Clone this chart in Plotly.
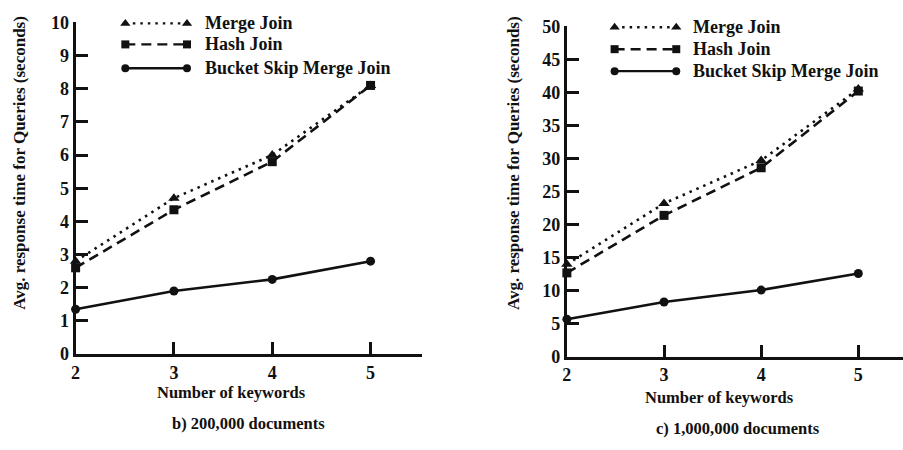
import plotly.graph_objects as go

# Number of keywords in the query
keywords = [2, 3, 4, 5]

# Average response time (seconds), 200,000 documents
merge_200k = [2.8, 4.7, 6.0, 8.1]
hash_200k = [2.6, 4.35, 5.8, 8.1]
bsmj_200k = [1.35, 1.9, 2.25, 2.8]

# Average response time (seconds), 1,000,000 documents
merge_1m = [14.0, 23.2, 29.7, 40.5]
hash_1m = [12.7, 21.4, 28.6, 40.2]
bsmj_1m = [5.7, 8.3, 10.1, 12.6]

series_names = ["Merge Join", "Hash Join", "Bucket Skip Merge Join"]
y_ticks_200k = list(range(0, 11))
y_ticks_1m = list(range(0, 51, 5))
captions = ["b) 200,000 documents", "c) 1,000,000 documents"]

FONT = "Liberation Serif"
BLACK = "#111111"
W, H = 903, 450

styles = [
    dict(dash="2.5px,5px", symbol="triangle-up", size=10),
    dict(dash="10px,6px", symbol="square", size=9),
    dict(dash="solid", symbol="circle", size=9),
]

fig = go.Figure()

panels = [
    dict(xa="x", ya="y", data=[merge_200k, hash_200k, bsmj_200k]),
    dict(xa="x2", ya="y2", data=[merge_1m, hash_1m, bsmj_1m]),
]

for p in panels:
    for vals, st, name in zip(p["data"], styles, series_names):
        fig.add_trace(go.Scatter(
            x=keywords, y=vals, name=name, mode="lines+markers",
            xaxis=p["xa"], yaxis=p["ya"], showlegend=False, cliponaxis=False,
            line=dict(color=BLACK, width=2.6, dash=st["dash"]),
            marker=dict(symbol=st["symbol"], size=st["size"], color=BLACK),
        ))

# Legend keys drawn on a full-page pixel-space axis: a line with a marker at each end
legend_rows = [
    dict(x0=121, x1=183, ys=[14, 36, 61], tx=199),
    dict(x0=613, x1=675, ys=[18, 41, 64], tx=690),
]
for row in legend_rows:
    for yk, st, name in zip(row["ys"], styles, series_names):
        fig.add_trace(go.Scatter(
            x=[row["x0"], row["x1"]], y=[yk, yk], mode="lines+markers",
            xaxis="x3", yaxis="y3", showlegend=False, hoverinfo="skip",
            line=dict(color=BLACK, width=2.4, dash=st["dash"]),
            marker=dict(symbol=st["symbol"], size=st["size"] - 1, color=BLACK),
        ))
        fig.add_annotation(
            x=row["tx"], y=yk, xref="x3", yref="y3", text=name, showarrow=False,
            xanchor="left", yanchor="middle",
            font=dict(family=FONT, size=18, color=BLACK, weight="bold"),
        )

axis_common = dict(
    showline=True, linecolor=BLACK, linewidth=3, showgrid=False, zeroline=False,
    ticks="inside", tickcolor=BLACK, tickwidth=2.5, ticklen=12,
    tickfont=dict(family=FONT, size=18, color=BLACK, weight="bold"),
)
# Short outer stubs so the tick marks cross the axis lines
stub_common = dict(
    showline=False, showgrid=False, zeroline=False, showticklabels=False,
    ticks="outside", tickcolor=BLACK, tickwidth=2.5, ticklen=4,
)

left_x = dict(domain=[71 / W, 419 / W], range=[2, 5.52], tickvals=keywords)
left_y = dict(domain=[1 - 360 / H, 1 - 13 / H], range=[0, 10], tickvals=y_ticks_200k)
right_x = dict(domain=[565 / W, 1.0], range=[2, 5.46], tickvals=keywords)
right_y = dict(domain=[1 - 363 / H, 1 - 17 / H], range=[0, 50], tickvals=y_ticks_1m)

fig.update_layout(
    width=W, height=H, margin=dict(l=0, r=0, t=0, b=0),
    paper_bgcolor="white", plot_bgcolor="rgba(0,0,0,0)",
    xaxis=dict(axis_common, **left_x, anchor="y"),
    yaxis=dict(axis_common, **left_y, anchor="x"),
    xaxis2=dict(axis_common, **right_x, anchor="y2"),
    yaxis2=dict(axis_common, **right_y, anchor="x2"),
    xaxis3=dict(domain=[0, 1], range=[0, W], visible=False, anchor="y3"),
    yaxis3=dict(domain=[0, 1], range=[H, 0], visible=False, anchor="x3"),
    xaxis4=dict(stub_common, range=left_x["range"], tickvals=[3, 4, 5],
                overlaying="x", anchor="y"),
    yaxis4=dict(stub_common, range=left_y["range"], tickvals=y_ticks_200k[1:],
                overlaying="y", anchor="x"),
    xaxis5=dict(stub_common, range=right_x["range"], tickvals=[3, 4, 5],
                overlaying="x2", anchor="y2"),
    yaxis5=dict(stub_common, range=right_y["range"], tickvals=y_ticks_1m[1:],
                overlaying="y2", anchor="x2"),
    showlegend=False,
)

# Axis titles and captions
texts = [
    dict(x=15, y=160, text="Avg. response time for Queries (seconds)", angle=-90, size=17),
    dict(x=512, y=160, text="Avg. response time for Queries (seconds)", angle=-90, size=17),
    dict(x=228, y=400, text="Number of keywords", angle=0, size=16.5),
    dict(x=718, y=405, text="Number of keywords", angle=0, size=16.5),
    dict(x=245, y=433, text=captions[0], angle=0, size=16.5),
    dict(x=737, y=438, text=captions[1], angle=0, size=16.5),
]
for t in texts:
    fig.add_annotation(
        x=t["x"], y=t["y"], xref="x3", yref="y3", text=t["text"], showarrow=False,
        textangle=t["angle"], xanchor="center", yanchor="middle",
        font=dict(family=FONT, size=t["size"], color=BLACK, weight="bold"),
    )

fig.write_html("out.html")
